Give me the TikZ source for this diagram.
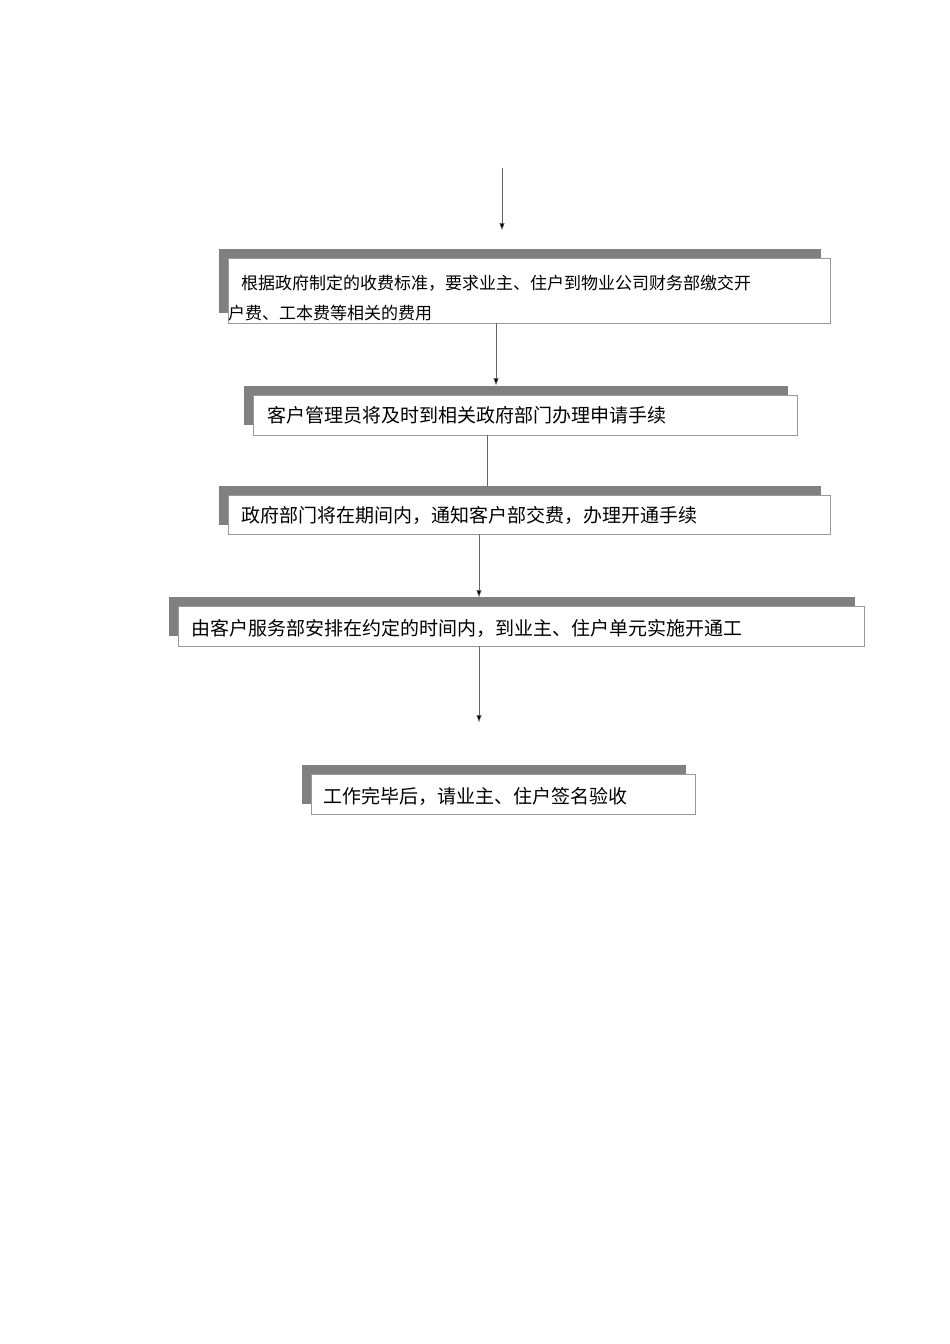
\documentclass[tikz,border=0pt]{standalone}
\usepackage{fontspec}
\newfontfamily\cjk{Noto Sans CJK SC}
\usetikzlibrary{arrows.meta}
\begin{document}
\begin{tikzpicture}[x=1pt,y=-1pt,
  shadowbox/.style={fill=black!50,draw=none},
  mainbox/.style={fill=white,draw=black!40,line width=0.6pt},
  txt/.style={anchor=west,inner sep=0pt,font=\cjk\fontsize{19}{22}\selectfont},
  conn/.style={draw=black!60,line width=0.5pt},
  arr/.style={conn,-{Triangle[length=7pt,width=5pt,fill=black]}}]
\useasboundingbox (0,0) rectangle (950,1344);
% box1
\fill[shadowbox] (219,249) rectangle (821,313);
\draw[mainbox] (228,258) rectangle (830,323);
\node[coordinate] (b1t) at (502,249) {};
\node[coordinate] (b1b) at (496,323) {};
\node[txt,font=\cjk\fontsize{17}{20}\selectfont] (t1) at (241,283) {根据政府制定的收费标准，要求业主、住户到物业公司财务部缴交开};
\begin{scope}
\clip (228,258) rectangle (830,321);
\node[txt,font=\cjk\fontsize{17}{20}\selectfont] (t1b) at (228,313) {户费、工本费等相关的费用};
\end{scope}
% box2
\fill[shadowbox] (244,386) rectangle (788,425);
\draw[mainbox] (253,395) rectangle (797,435);
\node[txt] (t2) at (267,415) {客户管理员将及时到相关政府部门办理申请手续};
% box3
\fill[shadowbox] (219,486) rectangle (821,525);
\draw[mainbox] (228,495) rectangle (830,534);
\node[txt] (t3) at (241,515) {政府部门将在期间内，通知客户部交费，办理开通手续};
% box4
\fill[shadowbox] (169,597) rectangle (855,636);
\draw[mainbox] (178,606) rectangle (864,646);
\node[txt] (t4) at (191,628) {由客户服务部安排在约定的时间内，到业主、住户单元实施开通工};
% box5
\fill[shadowbox] (302,765) rectangle (686,804);
\draw[mainbox] (311,774) rectangle (695,814);
\node[txt] (t5) at (323,796) {工作完毕后，请业主、住户签名验收};
% connectors
\coordinate (s0) at (502,168);
\coordinate (e0) at (502,230);
\draw[arr] (s0) -- (e0);
\coordinate (s1) at (496,323);
\coordinate (e1) at (496,385);
\draw[arr] (s1) -- (e1);
\coordinate (s2) at (487,435);
\coordinate (e2) at (487,486);
\draw[conn] (s2) -- (e2);
\coordinate (s3) at (479,534);
\coordinate (e3) at (479,597);
\draw[arr] (s3) -- (e3);
\coordinate (s4) at (479,646);
\coordinate (e4) at (479,722);
\draw[arr] (s4) -- (e4);
\end{tikzpicture}
\end{document}
